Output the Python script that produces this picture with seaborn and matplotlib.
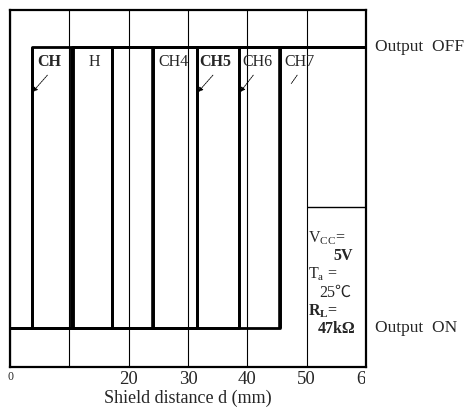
import matplotlib
matplotlib.use("Agg")
import matplotlib.pyplot as plt
import seaborn as sns
import pandas as pd
from matplotlib.patches import Rectangle

# ---- data ----
channels = ["CH1", "CH2", "CH3", "CH4", "CH5", "CH6", "CH7"]
switch_d = [3.7, 10.4, 17.2, 24.1, 31.5, 38.6, 45.5]      # mm, switching distance
off_level = [1.0, 1.0, 1.0, 1.0, 1.0, 1.0, 1.0]
on_level = 0.0
edge_w = [2.0, 3.5, 2.0, 2.6, 2.0, 2.0, 2.6]
label_text = ["CH", "H", "CH4", "CH5", "CH6", "CH7"]
label_x = [4.6, 13.2, 25.0, 31.9, 39.1, 46.2]
label_bold = [True, False, False, True, False, False]
arrow_from = [(6.3, 0.90), (34.2, 0.90), (41.0, 0.90), (48.4, 0.90)]
arrow_to = [(3.8, 0.84), (31.7, 0.84), (38.8, 0.84), (47.4, 0.87)]
arrow_style = ["-|>", "-|>", "-|>", "-"]
xticks = [0, 10, 20, 30, 40, 50, 60]
xtick_labels = ["0", "", "20", "30", "40", "50", "60"]
x_min, x_max = 0, 60

sns.set_theme(style="white")
plt.rcParams["font.family"] = ["Liberation Serif", "DejaVu Serif"]

fig = plt.figure(figsize=(4.7, 4.12), dpi=100)
ax = fig.add_axes([10 / 470, 1 - 367 / 412, 356 / 470, 357 / 412])

for name, d, off, ew in zip(channels, switch_d, off_level, edge_w):
    df = pd.DataFrame({"d": [x_min, d, d, x_max],
                       "out": [on_level, on_level, off, off]})
    sns.lineplot(data=df, x="d", y="out", sort=False, estimator=None,
                 color="black", lw=2.0, ax=ax, solid_capstyle="butt", zorder=3)
    ax.vlines(d, on_level, off, color="black", lw=ew, zorder=3)

ax.set_xlim(x_min, x_max)
ax.set_ylim(-0.139, 1.132)
ax.set_xticks(xticks)
ax.set_xticklabels(xtick_labels, fontsize=13.5)
ax.set_yticks([])
ax.tick_params(axis="x", length=0, pad=3)
ax.grid(axis="x", color="black", lw=0.8)
ax.grid(axis="y", visible=False)
ax.set_xlabel("Shield distance d (mm)", fontsize=13, labelpad=1)
ax.set_ylabel("")
for s in ax.spines.values():
    s.set_color("black")
    s.set_linewidth(1.6)

tl = ax.get_xticklabels()
tl[0].set_fontsize(8.5)
tl[-1].set_clip_path(Rectangle((0, 0), 365 / 470, 1, transform=fig.transFigure))

# mid gridline segment in the right column
ax.hlines(0.43, 50, 60, color="black", lw=1.0)

for t, x, b in zip(label_text, label_x, label_bold):
    ax.text(x, 0.947, t, fontsize=11.5, fontweight="bold" if b else "normal",
            va="center", ha="left", zorder=4)

for (x0, y0), (x1, y1), st in zip(arrow_from, arrow_to, arrow_style):
    ax.annotate("", xy=(x1, y1), xytext=(x0, y0),
                arrowprops=dict(arrowstyle=st, lw=0.6, color="black",
                                linestyle=(0, (2, 1)), mutation_scale=7,
                                shrinkA=0, shrinkB=0))

ax.text(1.025, 1.0, "Output  OFF", transform=ax.get_yaxis_transform(),
        fontsize=12.5, va="center", ha="left", clip_on=False)
ax.text(1.025, 0.0, "Output  ON", transform=ax.get_yaxis_transform(),
        fontsize=12.5, va="center", ha="left", clip_on=False)

# conditions box
fs = 11.5
ax.text(50.2, 0.32, r"V$_{\mathregular{CC}}$=", fontsize=fs, va="center", ha="left")
ax.text(57.8, 0.255, "5V", fontsize=fs, fontweight="bold", va="center", ha="right")
ax.text(50.2, 0.19, r"T$_{\mathregular{a}}$ =", fontsize=fs, va="center", ha="left")
ax.text(57.5, 0.125, "25℃", fontsize=fs, va="center", ha="right",
        family=["Liberation Serif", "Noto Sans CJK JP", "DejaVu Sans"])
ax.text(50.2, 0.06, r"R$_{\mathregular{L}}$=", fontsize=fs, fontweight="bold", va="center", ha="left")
ax.text(58.3, -0.005, "47kΩ", fontsize=fs, fontweight="bold", va="center", ha="right")

fig.savefig("out.png", dpi=100)
